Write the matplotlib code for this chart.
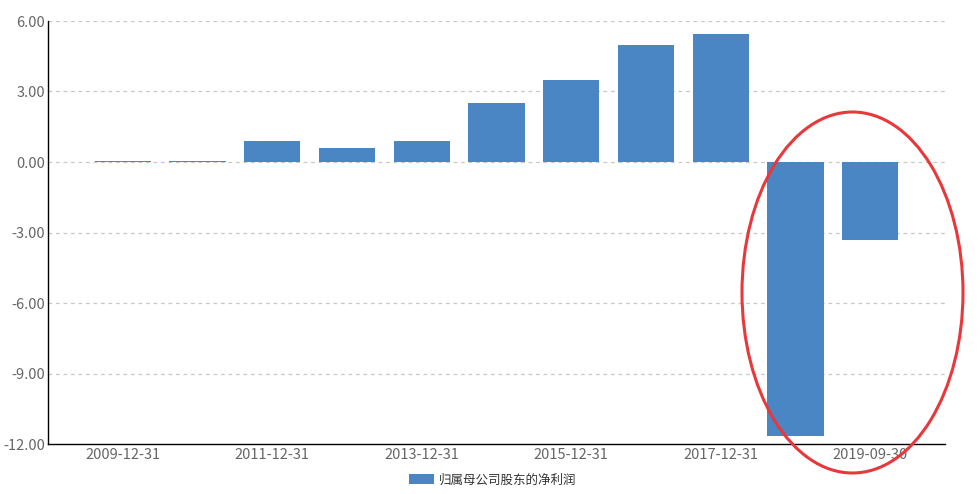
import matplotlib
matplotlib.use("Agg")
import matplotlib.pyplot as plt
from matplotlib.patches import Ellipse

categories = ["2009-12-31", "2010-12-31", "2011-12-31", "2012-12-31", "2013-12-31",
              "2014-12-31", "2015-12-31", "2016-12-31", "2017-12-31", "2018-12-31",
              "2019-09-30"]
values = [0.04, 0.04, 0.89, 0.60, 0.89, 2.51, 3.49, 4.98, 5.45, -11.66, -3.32]
yticks = [6, 3, 0, -3, -6, -9, -12]
series_name = "归属母公司股东的净利润"

plt.rcParams['font.family'] = ['Noto Sans CJK SC', 'DejaVu Sans']

fig = plt.figure(figsize=(9.8, 4.94), dpi=100)
ax = fig.add_axes([48/980, 50/494, 897/980, 423/494])

x = list(range(len(categories)))
ax.bar(x, values, width=0.75, color="#4a85c4", label=series_name, zorder=3)

ax.set_xlim(-1.0, 11.0)
ax.set_ylim(-12, 6)
ax.set_yticks(yticks)
ax.set_yticklabels([f"{v:.2f}" for v in yticks])
ax.set_xticks(x[::2])
ax.set_xticklabels(categories[::2])
ax.tick_params(axis='both', length=0, labelsize=10.5, colors="#666666")
ax.tick_params(axis='y', pad=2)
ax.tick_params(axis='x', pad=3)

for v in yticks:
    if v != -12:
        ax.axhline(v, color="#c8c8c8", linestyle=(0, (3, 3)), linewidth=0.9, zorder=1)

for s in ["top", "right"]:
    ax.spines[s].set_visible(False)
ax.spines["left"].set_color("black")
ax.spines["bottom"].set_color("black")
ax.spines["left"].set_linewidth(1.0)
ax.spines["bottom"].set_linewidth(1.0)

leg = fig.legend(loc="center", bbox_to_anchor=(0.503, 1 - 480/494), frameon=False,
                 fontsize=9, handlelength=2.0, handleheight=0.8, handletextpad=0.4)
for t in leg.get_texts():
    t.set_color("#333333")

# red highlight ellipse (in pixel-based figure coords)
ell = Ellipse((852.5/980, 1 - 292.5/494), 221/980, 361/494, transform=fig.transFigure,
              fill=False, edgecolor="#e8383b", linewidth=2.2, zorder=10)
fig.add_artist(ell)

fig.savefig("out.png", dpi=100)
